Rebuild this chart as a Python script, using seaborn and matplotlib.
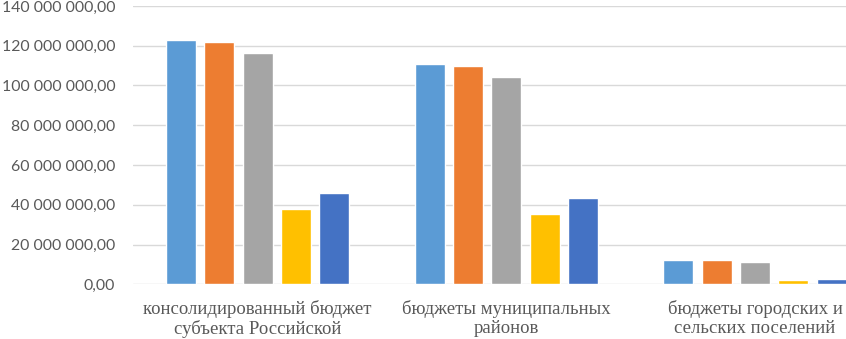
import matplotlib
matplotlib.use("Agg")
import matplotlib.pyplot as plt
import matplotlib.ticker as mticker
import pandas as pd
import seaborn as sns

# подписи категорий (видимая часть)
categories = [
    "консолидированный бюджет\nсубъекта Российской",
    "бюджеты муниципальных\nрайонов",
    "бюджеты городских и\nсельских поселений",
]
series = ["Ряд1", "Ряд2", "Ряд3", "Ряд4", "Ряд5"]
# значения (руб.)
s1 = [123.0e6, 110.9e6, 12.2e6]
s2 = [121.8e6, 109.8e6, 12.0e6]
s3 = [116.1e6, 104.4e6, 11.4e6]
s4 = [37.7e6, 35.6e6, 2.0e6]
s5 = [45.8e6, 43.2e6, 2.5e6]
colors = ["#5B9BD5", "#ED7D31", "#A5A5A5", "#FFC000", "#4472C4"]

df = pd.DataFrame({
    "cat": categories * 5,
    "series": [s for s in series for _ in categories],
    "value": s1 + s2 + s3 + s4 + s5,
})

sns.set_style("white")
plt.rcParams["font.family"] = ["Lato", "DejaVu Sans"]

fig = plt.figure(figsize=(8.46, 3.39), dpi=100)
ax = fig.add_axes([0.1576, 0.1614, 0.8424, 0.821])

sns.barplot(data=df, x="cat", y="value", hue="series", palette=colors,
            width=0.77, gap=0.217, legend=False, ax=ax, saturation=1,
            errorbar=None)

ax.set_ylim(0, 140e6)
ax.set_xlim(-0.5, 2.366)
ax.yaxis.set_major_locator(mticker.MultipleLocator(20e6))
ax.yaxis.set_major_formatter(mticker.FuncFormatter(
    lambda v, p: f"{v:,.2f}".replace(",", " ").replace(".", ",")))
ax.grid(axis="y", color="#d9d9d9", linewidth=1)
ax.set_axisbelow(True)
for sp in ax.spines.values():
    sp.set_visible(False)
ax.set_xlabel("")
ax.set_ylabel("")
ax.tick_params(axis="y", length=0, pad=13, labelsize=11.4, labelcolor="#595959")
ax.tick_params(axis="x", length=0, pad=11, labelcolor="#595959")
for lab in ax.get_xticklabels():
    lab.set_fontfamily(["Liberation Serif", "DejaVu Serif"])
    lab.set_fontsize(13.5)
    lab.set_linespacing(1.15)

fig.savefig("out.png", dpi=100)
